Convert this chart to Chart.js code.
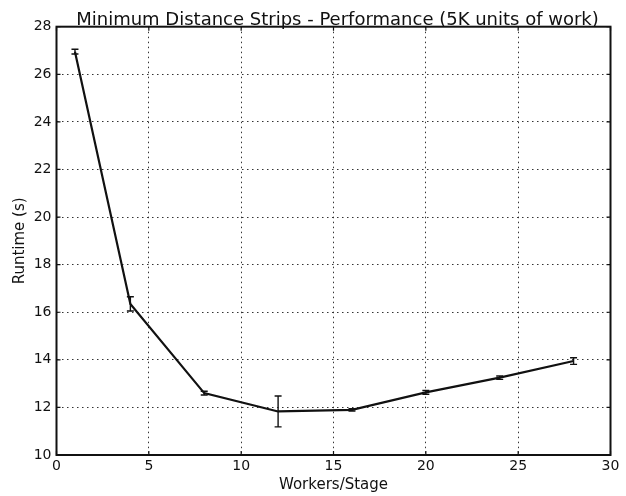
<!DOCTYPE html>
<html lang="en">
<head>
    <meta charset="UTF-8">
    <title>Minimum Distance Strips - Performance</title>
    <script src="https://cdn.jsdelivr.net/npm/chart.js@4.4.1/dist/chart.umd.min.js"></script>
    <style>
        html, body { margin: 0; padding: 0; background: #fff; }
        #wrap { width: 626px; height: 496px; }
    </style>
</head>
<body>
    <div id="wrap"><canvas id="runtimeChart" width="626" height="496"></canvas></div>

    <script>
        // Measured runtimes (mean and error) per worker count
        const workers = [1, 4, 8, 12, 16, 20, 24, 28];
        const runtime = [26.95, 16.35, 12.6, 11.83, 11.9, 12.63, 13.25, 13.95];
        const runtimeErr = [0.1, 0.3, 0.08, 0.65, 0.05, 0.08, 0.07, 0.14];

        const titleText = 'Minimum Distance Strips - Performance (5K units of work)';
        const ink = '#111';
        const font = 'DejaVu Sans';

        // Error bars with caps, drawn from the same data through the scales
        const errorBars = {
            id: 'errorBars',
            afterDatasetsDraw(chart) {
                const { ctx, scales: { x, y } } = chart;
                ctx.save();
                ctx.strokeStyle = ink;
                ctx.lineWidth = 1.4;
                workers.forEach((w, i) => {
                    const px = x.getPixelForValue(w);
                    const top = y.getPixelForValue(runtime[i] + runtimeErr[i]);
                    const bot = y.getPixelForValue(runtime[i] - runtimeErr[i]);
                    ctx.beginPath();
                    ctx.moveTo(px, top); ctx.lineTo(px, bot);
                    ctx.moveTo(px - 3.5, top); ctx.lineTo(px + 3.5, top);
                    ctx.moveTo(px - 3.5, bot); ctx.lineTo(px + 3.5, bot);
                    ctx.stroke();
                });
                ctx.restore();
            }
        };

        // Box frame, inward tick marks on all sides, and the title
        const frame = {
            id: 'frame',
            afterDraw(chart) {
                const { ctx, chartArea: a, scales: { x, y } } = chart;
                ctx.save();
                ctx.strokeStyle = ink;
                ctx.lineWidth = 1.2;
                ctx.beginPath();
                x.ticks.forEach(t => {
                    const px = x.getPixelForValue(t.value);
                    ctx.moveTo(px, a.bottom); ctx.lineTo(px, a.bottom - 4);
                    ctx.moveTo(px, a.top); ctx.lineTo(px, a.top + 4);
                });
                y.ticks.forEach(t => {
                    const py = y.getPixelForValue(t.value);
                    ctx.moveTo(a.left, py); ctx.lineTo(a.left + 4, py);
                    ctx.moveTo(a.right, py); ctx.lineTo(a.right - 4, py);
                });
                ctx.stroke();
                ctx.lineWidth = 2;
                ctx.strokeRect(a.left, a.top, a.right - a.left, a.bottom - a.top);

                ctx.fillStyle = ink;
                ctx.font = '18px "' + font + '"';
                ctx.textAlign = 'center';
                ctx.textBaseline = 'alphabetic';
                ctx.fillText(titleText, (a.left + a.right) / 2 + 4, 25);
                ctx.restore();
            }
        };

        const gridStyle = {
            color: '#333',
            lineWidth: 1,
            drawTicks: false
        };

        new Chart(document.getElementById('runtimeChart'), {
            type: 'line',
            data: {
                datasets: [{
                    data: workers.map((w, i) => ({ x: w, y: runtime[i] })),
                    borderColor: ink,
                    borderWidth: 2.2,
                    pointRadius: 0,
                    tension: 0,
                    fill: false
                }]
            },
            options: {
                responsive: false,
                animation: false,
                devicePixelRatio: 1,
                layout: { padding: { top: 26.7, right: 15.5, left: 0, bottom: 0 } },
                plugins: {
                    legend: { display: false },
                    tooltip: { enabled: false },
                    title: { display: false }
                },
                scales: {
                    x: {
                        type: 'linear',
                        min: 0,
                        max: 30,
                        grid: gridStyle,
                        border: { display: false, dash: [1.5, 3.5] },
                        ticks: {
                            stepSize: 5,
                            autoSkip: false,
                            padding: 3,
                            color: ink,
                            font: { family: font, size: 14 }
                        },
                        title: {
                            display: true,
                            text: 'Workers/Stage',
                            color: ink,
                            font: { family: font, size: 15 },
                            padding: { top: 0, bottom: 2 }
                        },
                        afterFit(scale) { scale.height = 41; }
                    },
                    y: {
                        min: 10,
                        max: 28,
                        grid: gridStyle,
                        border: { display: false, dash: [1.5, 3.5] },
                        ticks: {
                            stepSize: 2,
                            padding: 5,
                            color: ink,
                            font: { family: font, size: 14 }
                        },
                        title: {
                            display: true,
                            text: 'Runtime (s)',
                            color: ink,
                            font: { family: font, size: 15 },
                            padding: { top: 11, bottom: 0 }
                        },
                        afterFit(scale) { scale.width = 56.5; }
                    }
                }
            },
            plugins: [errorBars, frame]
        });
    </script>
</body>
</html>
